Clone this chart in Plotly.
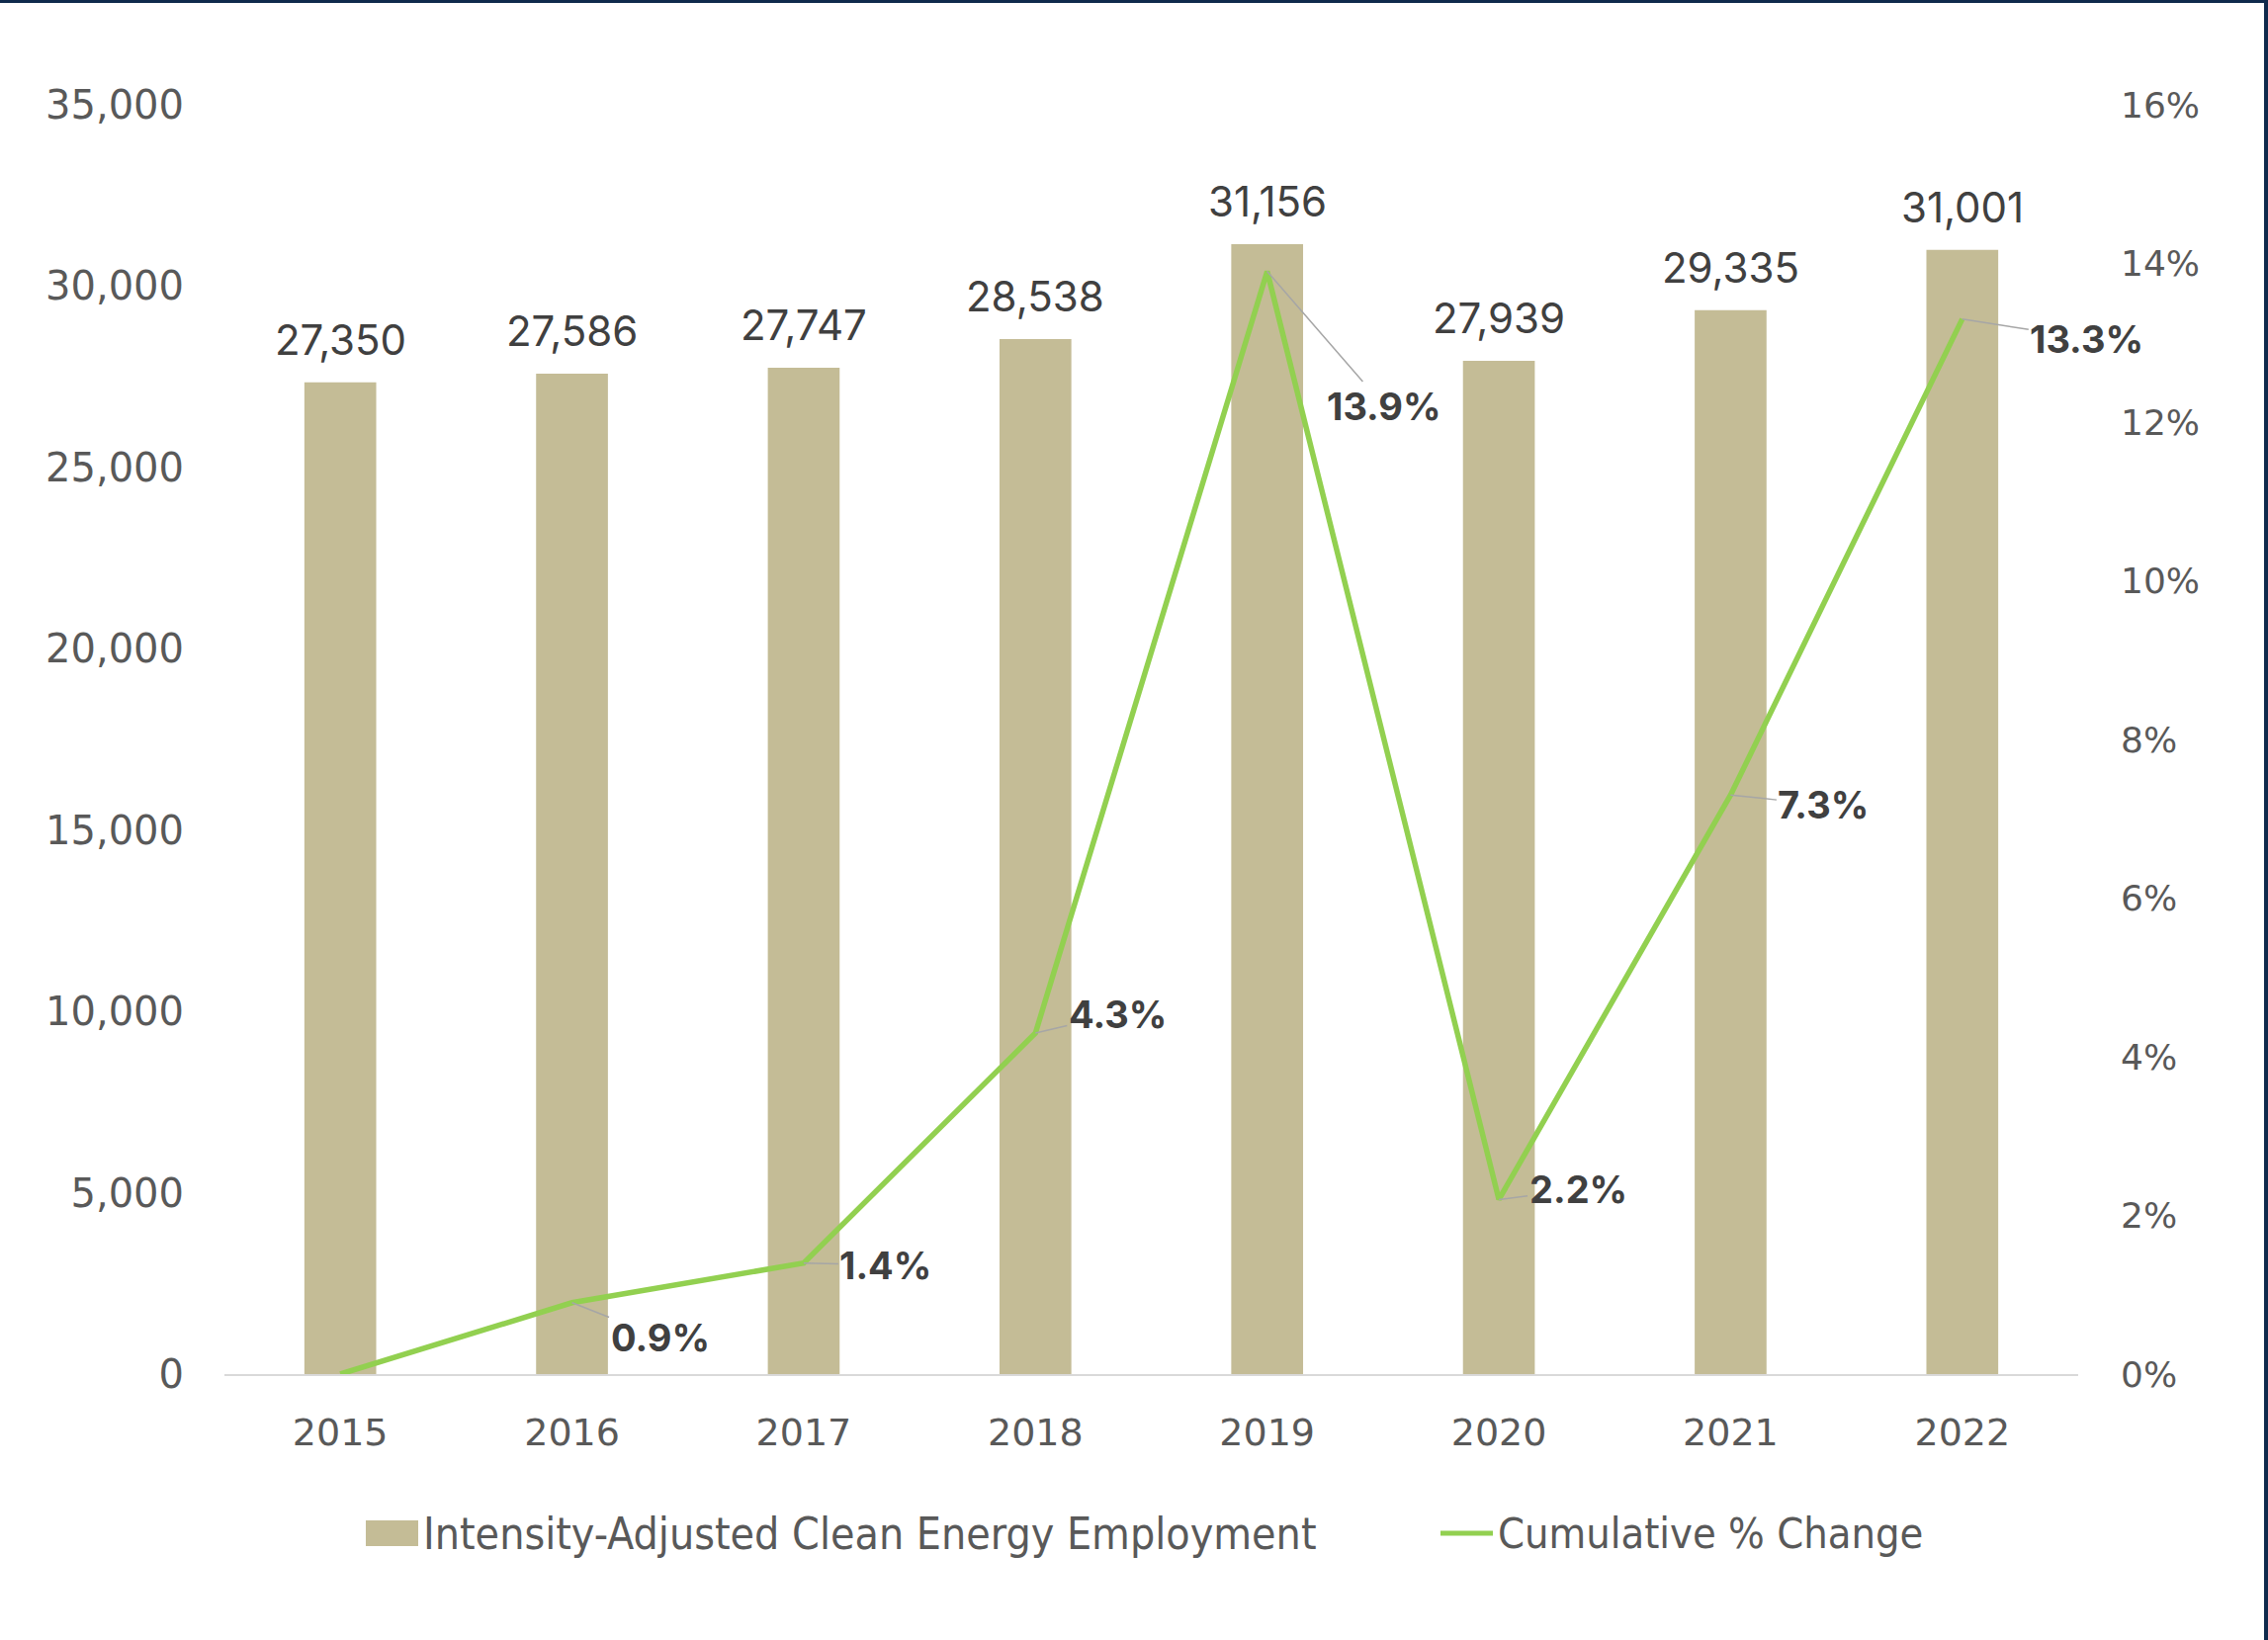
import plotly.graph_objects as go

# Data
years = ["2015", "2016", "2017", "2018", "2019", "2020", "2021", "2022"]
employment = [27350, 27586, 27747, 28538, 31156, 27939, 29335, 31001]
cum_change_pct = [0.0, 0.9, 1.4, 4.3, 13.9, 2.2, 7.3, 13.3]
pct_labels = [None, "0.9%", "1.4%", "4.3%", "13.9%", "2.2%", "7.3%", "13.3%"]
left_ticks = [0, 5000, 10000, 15000, 20000, 25000, 30000, 35000]
right_ticks = [0, 2, 4, 6, 8, 10, 12, 14, 16]
bar_name = "Intensity-Adjusted Clean Energy Employment"
line_name = "Cumulative % Change"

BAR_COLOR = "#c4bc96"
LINE_COLOR = "#92d050"
TICK_COLOR = "#595959"
LABEL_COLOR = "#404040"
NAVY = "#0f2a4c"
FONT = "Inter, Lato, 'Open Sans', sans-serif"
TICK_FONT = "'DejaVu Sans', Inter, sans-serif"
LEGEND_FONT = "'Liberation Sans Narrow', 'DejaVu Sans Condensed', 'Roboto Condensed', Roboto, sans-serif"

W, H = 2294, 1659
ML, MR, MT, MB = 227, 192, 106, 269

fig = go.Figure()

idx = list(range(len(years)))

fig.add_trace(go.Bar(
    x=idx, y=employment, name=bar_name,
    marker=dict(color=BAR_COLOR, line=dict(width=0)),
    width=0.31, yaxis="y", showlegend=False,
    hovertext=years, hoverinfo="text+y",
))

fig.add_trace(go.Scatter(
    x=idx, y=[v / 100 for v in cum_change_pct], name=line_name,
    mode="lines", line=dict(color=LINE_COLOR, width=5.5),
    yaxis="y2", showlegend=False,
))

# Value labels above bars
for i, v in zip(idx, employment):
    fig.add_annotation(
        x=i, y=v, xref="x", yref="y", text=f"{v:,}",
        showarrow=False, yanchor="bottom", yshift=16,
        font=dict(family=FONT, size=42, color=LABEL_COLOR),
    )

# Percent labels with leader lines
offsets = [None, (89, 35), (83, 2), (83, -19), (118, 136), (80, -10), (94, 10), (126, 20)]
for i, v, lab, off in zip(idx, cum_change_pct, pct_labels, offsets):
    if lab is None:
        continue
    fig.add_annotation(
        x=i, y=v / 100, xref="x", yref="y2", text=f"<b>{lab}</b>",
        showarrow=True, arrowhead=0, arrowwidth=1.5, arrowcolor="#a6a6a6",
        ax=off[0], ay=off[1],
        xanchor="center", yanchor="middle",
        font=dict(family=FONT, size=38, color=LABEL_COLOR),
    )

# Legend drawn below the x axis
def px_x(p):
    return (p - ML) / (W - ML - MR)

def px_y(p):
    return (H - MB - p) / (H - MT - MB)

leg_y = 1551
fig.add_shape(type="rect", xref="paper", yref="paper",
              x0=px_x(370), x1=px_x(423), y0=px_y(leg_y + 13), y1=px_y(leg_y - 13),
              fillcolor=BAR_COLOR, line=dict(width=0))
fig.add_annotation(xref="paper", yref="paper", x=px_x(426), y=px_y(leg_y),
                   text=bar_name, showarrow=False, xanchor="left", yanchor="middle",
                   font=dict(family=LEGEND_FONT, size=44.3, color=TICK_COLOR))
fig.add_shape(type="line", xref="paper", yref="paper",
              x0=px_x(1457), x1=px_x(1510), y0=px_y(leg_y), y1=px_y(leg_y),
              line=dict(color=LINE_COLOR, width=5))
fig.add_annotation(xref="paper", yref="paper", x=px_x(1513), y=px_y(leg_y),
                   text=line_name, showarrow=False, xanchor="left", yanchor="middle",
                   font=dict(family=LEGEND_FONT, size=43, color=TICK_COLOR))

# Frame edges (top and right)
fig.add_shape(type="rect", xref="paper", yref="paper",
              x0=px_x(0), x1=px_x(W), y0=px_y(0), y1=px_y(3),
              fillcolor=NAVY, line=dict(width=0), layer="above")
fig.add_shape(type="rect", xref="paper", yref="paper",
              x0=px_x(2290), x1=px_x(W), y0=px_y(0), y1=px_y(H),
              fillcolor=NAVY, line=dict(width=0), layer="above")

fig.update_layout(
    width=W, height=H,
    margin=dict(l=ML, r=MR, t=MT, b=MB, pad=0),
    paper_bgcolor="white", plot_bgcolor="white",
    showlegend=False,
    xaxis=dict(
        range=[-0.5, 7.5], tickvals=idx, ticktext=years,
        showgrid=False, zeroline=False,
        showline=True, linecolor="#d9d9d9", linewidth=2,
        ticks="", ticklabelstandoff=24,
        tickfont=dict(family=TICK_FONT, size=38, color=TICK_COLOR),
    ),
    yaxis=dict(
        range=[0, 35000], tickvals=left_ticks,
        tickformat=",d", showgrid=False, zeroline=False, showline=False,
        ticks="", ticklabelstandoff=40,
        tickfont=dict(family=TICK_FONT, size=40, color=TICK_COLOR),
    ),
    yaxis2=dict(
        range=[0, 0.16], tickvals=[t / 100 for t in right_ticks],
        tickformat=".0%", overlaying="y", side="right",
        showgrid=False, zeroline=False, showline=False,
        ticks="", ticklabelstandoff=42,
        tickfont=dict(family=TICK_FONT, size=36, color=TICK_COLOR),
    ),
)

fig.write_html("out.html")
